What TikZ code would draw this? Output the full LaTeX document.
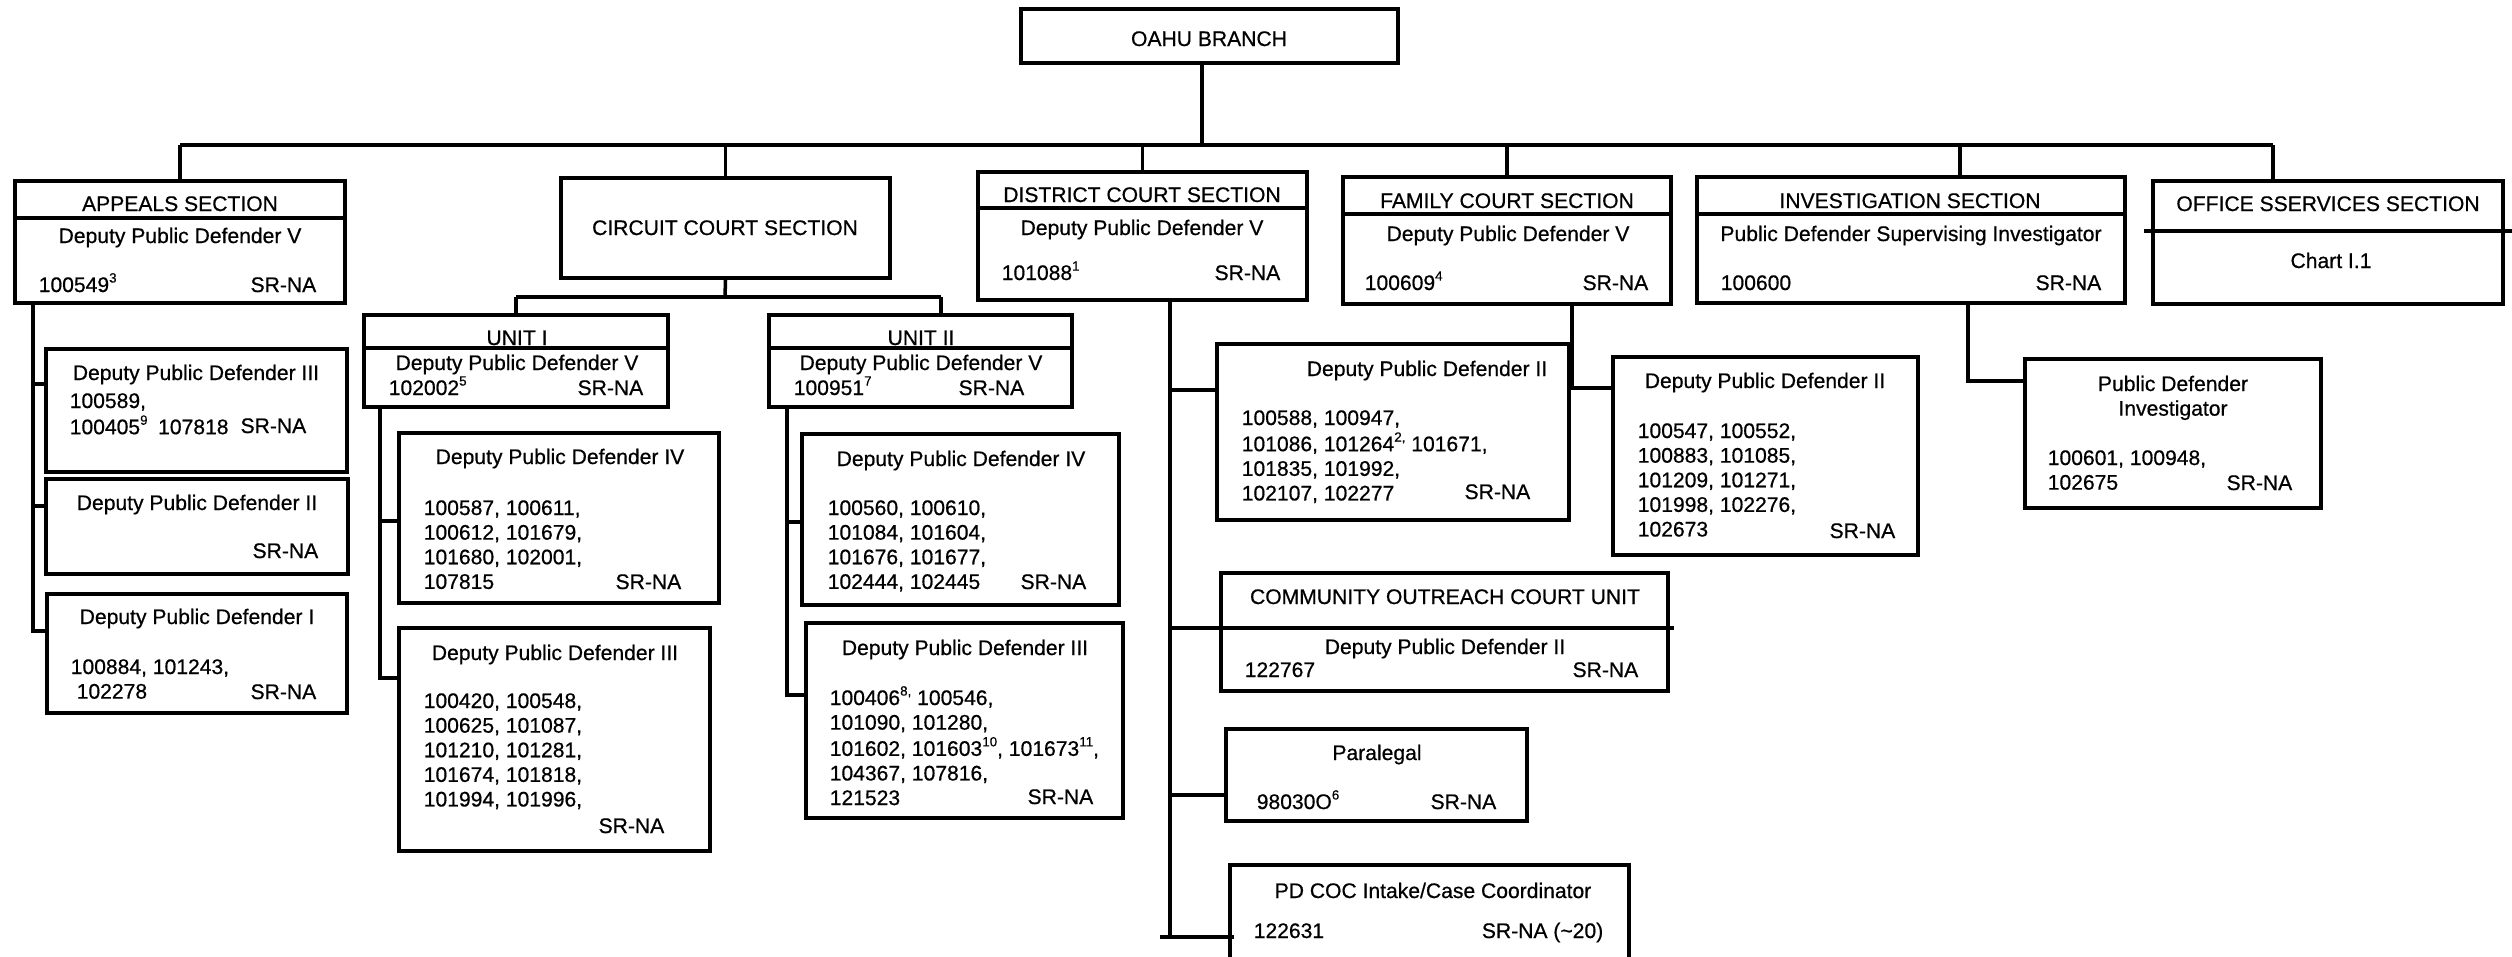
\documentclass[tikz,border=0pt]{standalone}
\usepackage{fontspec}
\setmainfont{Liberation Sans}[FakeBold=0.6,AutoFakeBold=0.6]
\usetikzlibrary{positioning,fit,calc}
\newcommand{\idrows}[2][l]{\begin{tabular}[t]{@{}#1@{}}#2\end{tabular}}
\newcommand{\fnmark}[1]{\raisebox{0.85ex}{\fontsize{3.8}{4}\selectfont #1}}
\tikzset{
    %Define style for boxes
    unit/.style={
        rectangle,
        draw=black, line width=1pt,
        inner sep=0pt,
    },
    txt/.style={
        inner sep=0pt,
        font=\fontsize{6}{7}\selectfont,
    },
    title/.style={txt, anchor=base},
    ids/.style={txt, anchor=base west},
    grade/.style={txt, anchor=base east},
}

\begin{document}
\begin{tikzpicture}[x=0.01cm,y=-0.01cm,line width=1pt]
\useasboundingbox (0,0) rectangle (2512,956);

% top of the chart
\node[unit, fit={(1021,9) (1398,63)}] (oahu) {};
\node[title] (oahu-t) at (1209,46) {OAHU BRANCH};

% sections
\node[unit, fit={(15,181) (345,303)}] (appeals) {};
\draw (appeals.west |- 0,218) -- (appeals.east |- 0,218);
\node[title] (appeals-t) at (180,211) {APPEALS SECTION};
\node[title] (appeals-p) at (180,243) {Deputy Public Defender V};
\node[ids] (appeals-n) at (37,292) {100549\fnmark{3}};
\node[grade] (appeals-g) at (318,292) {SR-NA};

\node[unit, fit={(561,178) (890,278)}] (circuit) {};
\node[title] (circuit-t) at (725,235) {CIRCUIT COURT SECTION};

\node[unit, fit={(978,172) (1307,300)}] (district) {};
\draw (district.west |- 0,208) -- (district.east |- 0,208);
\node[title] (district-t) at (1142,202) {DISTRICT COURT SECTION};
\node[title] (district-p) at (1142,235) {Deputy Public Defender V};
\node[ids] (district-n) at (1000,280) {101088\fnmark{1}};
\node[grade] (district-g) at (1282,280) {SR-NA};

\node[unit, fit={(1343,177) (1671,304)}] (family) {};
\draw (family.west |- 0,214) -- (family.east |- 0,214);
\node[title] (family-t) at (1507,208) {FAMILY COURT SECTION};
\node[title] (family-p) at (1508,241) {Deputy Public Defender V};
\node[ids] (family-n) at (1363,290) {100609\fnmark{4}};
\node[grade] (family-g) at (1650,290) {SR-NA};

\node[unit, fit={(1697,177) (2125,303)}] (invest) {};
\draw (invest.west |- 0,214) -- (invest.east |- 0,214);
\node[title] (invest-t) at (1910,208) {INVESTIGATION SECTION};
\node[title] (invest-p) at (1911,241) {Public Defender Supervising Investigator};
\node[ids] (invest-n) at (1719,290) {100600};
\node[grade] (invest-g) at (2103,290) {SR-NA};

\node[unit, fit={(2153,181) (2503,304)}] (office) {};
\draw ($(office.west |- 0,231)+(-7,0)$) -- ($(office.east |- 0,231)+(7,0)$);
\node[title] (office-t) at (2328,211) {OFFICE SSERVICES SECTION};
\node[title] (office-p) at (2331,268) {Chart I.1};

% branch bus
\coordinate (bus) at (1202,145);
\coordinate (busstart) at (appeals.north |- bus);
\coordinate (busend) at (2273,145);
\coordinate (investdrop) at (1960,145);
\draw (bus |- oahu.south) -- (bus);
\draw (busstart) -- (busend);
\draw (appeals.north) -- (busstart);
\draw (circuit.north) -- (circuit.north |- bus);
\draw (district.north) -- (district.north |- bus);
\draw (family.north) -- (family.north |- bus);
\draw (investdrop) -- (investdrop |- invest.north);
\draw (busend) -- (busend |- office.north);

% appeals section
\node[unit, fit={(46,349) (347,472)}] (ap3) {};
\node[title] (ap3-t) at (196,380) {Deputy Public Defender III};
\node[ids] (ap3-n) at (68,408) {\idrows{100589,\\100405\fnmark{9}\enspace 107818}};
\node[grade] (ap3-g) at (308,433) {SR-NA};

\node[unit, fit={(46,479) (348,574)}] (ap2) {};
\node[title] (ap2-t) at (197,510) {Deputy Public Defender II};
\node[grade] (ap2-g) at (320,558) {SR-NA};

\node[unit, fit={(47,594) (347,713)}] (ap1) {};
\node[title] (ap1-t) at (197,624) {Deputy Public Defender I};
\node[ids] (ap1-n) at (69,674) {\idrows{100884, 101243,\\\hspace{1.7pt}102278}};
\node[grade] (ap1-g) at (318,699) {SR-NA};

\coordinate (aptrunk) at (appeals.south -| 33,0);
\draw (aptrunk) |- (ap3.west |- 0,384);
\draw (aptrunk) |- (ap2.west |- 0,506);
\draw (aptrunk) |- (ap1.west |- 0,631);

% circuit court units
\node[unit, fit={(364,315) (668,407)}] (unit1) {};
\draw (unit1.west |- 0,348) -- (unit1.east |- 0,348);
\node[title] (unit1-t) at (517,345) {UNIT I};
\node[title] (unit1-p) at (517,370) {Deputy Public Defender V};
\node[ids] (unit1-n) at (387,395) {102002\fnmark{5}};
\node[grade] (unit1-g) at (645,395) {SR-NA};

\node[unit, fit={(769,315) (1072,407)}] (unit2) {};
\draw (unit2.west |- 0,348) -- (unit2.east |- 0,348);
\node[title] (unit2-t) at (921,345) {UNIT II};
\node[title] (unit2-p) at (921,370) {Deputy Public Defender V};
\node[ids] (unit2-n) at (792,395) {100951\fnmark{7}};
\node[grade] (unit2-g) at (1026,395) {SR-NA};

\coordinate (cbus) at (725,297);
\coordinate (u2drop) at (941,297);
\draw (circuit.south) -- (cbus);
\draw (unit1.north |- cbus) -- (u2drop);
\draw (unit1.north) -- (unit1.north |- cbus);
\draw (u2drop) -- (u2drop |- unit2.north);

\node[unit, fit={(399,433) (719,603)}] (u1d4) {};
\node[title] (u1d4-t) at (560,464) {Deputy Public Defender IV};
\node[ids] (u1d4-n) at (422,515) {\idrows{100587, 100611,\\100612, 101679,\\101680, 102001,\\107815}};
\node[grade] (u1d4-g) at (683,589) {SR-NA};

\node[unit, fit={(399,628) (710,851)}] (u1d3) {};
\node[title] (u1d3-t) at (555,660) {Deputy Public Defender III};
\node[ids] (u1d3-n) at (422,708) {\idrows{100420, 100548,\\100625, 101087,\\101210, 101281,\\101674, 101818,\\101994, 101996,}};
\node[grade] (u1d3-g) at (666,833) {SR-NA};

\coordinate (u1trunk) at (unit1.south -| 380,0);
\draw (u1trunk) |- (u1d4.west |- 0,521);
\draw (u1trunk) |- (u1d3.west |- 0,678);

\node[unit, fit={(802,434) (1119,605)}] (u2d4) {};
\node[title] (u2d4-t) at (961,466) {Deputy Public Defender IV};
\node[ids] (u2d4-n) at (826,515) {\idrows{100560, 100610,\\101084, 101604,\\101676, 101677,\\102444, 102445}};
\node[grade] (u2d4-g) at (1088,589) {SR-NA};

\node[unit, fit={(806,623) (1123,818)}] (u2d3) {};
\node[title] (u2d3-t) at (965,655) {Deputy Public Defender III};
\node[ids] (u2d3-n) at (828,705) {\idrows{100406\fnmark{8,} 100546,\\101090, 101280,\\101602, 101603\fnmark{10}, 101673\fnmark{11},\\104367, 107816,\\121523}};
\node[grade] (u2d3-g) at (1095,804) {SR-NA};

\coordinate (u2trunk) at (unit2.south -| 787,0);
\draw (u2trunk) |- (u2d4.west |- 0,522);
\draw (u2trunk) |- (u2d3.west |- 0,695);

% district court staff
\node[unit, fit={(1217,344) (1569,520)}] (fd2a) {};
\node[title] (fd2a-t) at (1427,376) {Deputy Public Defender II};
\node[ids] (fd2a-n) at (1240,425) {\idrows{100588, 100947,\\101086, 101264\fnmark{2,} 101671,\\101835, 101992,\\102107, 102277}};
\node[grade] (fd2a-g) at (1532,499) {SR-NA};

\node[unit, fit={(1221,573) (1668,691)}] (cour) {};
\draw (cour.west |- 0,628) -- ($(cour.east |- 0,628)+(4,0)$);
\node[title] (cour-t) at (1445,604) {COMMUNITY OUTREACH COURT UNIT};
\node[title] (cour-p) at (1445,654) {Deputy Public Defender II};
\node[ids] (cour-n) at (1243,677) {122767};
\node[grade] (cour-g) at (1640,677) {SR-NA};

\node[unit, fit={(1226,729) (1527,821)}] (para) {};
\node[title] (para-t) at (1377,760) {Paralegal};
\node[ids] (para-n) at (1255,809) {98030O\fnmark{6}};
\node[grade] (para-g) at (1498,809) {SR-NA};

\node[unit, fit={(1230,865) (1629,985)}] (pdcoc) {};
\node[title] (pdcoc-t) at (1433,898) {PD COC Intake/Case Coordinator};
\node[ids] (pdcoc-n) at (1252,938) {122631};
\node[grade] (pdcoc-g) at (1605,938) {SR-NA (\textasciitilde20)};

\coordinate (dtrunk) at (district.south -| 1170,0);
\draw (dtrunk) |- (fd2a.west |- 0,390);
\draw (dtrunk) |- (cour.west |- 0,628);
\draw (dtrunk) |- (para.west |- 0,795);
\draw (dtrunk) -- (dtrunk |- 0,937);
\draw ($(dtrunk |- 0,937)+(-10,0)$) -- ($(pdcoc.west |- 0,937)+(6,0)$);

% family court staff
\node[unit, fit={(1613,357) (1918,555)}] (fd2b) {};
\node[title] (fd2b-t) at (1765,388) {Deputy Public Defender II};
\node[ids] (fd2b-n) at (1636,438) {\idrows{100547, 100552,\\100883, 101085,\\101209, 101271,\\101998, 102276,\\102673}};
\node[grade] (fd2b-g) at (1897,538) {SR-NA};

\coordinate (ftrunk) at (family.south -| 1572,0);
\draw (ftrunk) |- (fd2b.west |- 0,388);

% investigators
\node[unit, fit={(2025,359) (2321,508)}] (pdinv) {};
\node[title] (pdinv-t) at (2173,391) {\idrows[c]{Public Defender\\Investigator}};
\node[ids] (pdinv-n) at (2046,465) {\idrows{100601, 100948,\\102675}};
\node[grade] (pdinv-g) at (2294,490) {SR-NA};

\coordinate (itrunk) at (invest.south -| 1968,0);
\draw (itrunk) |- (pdinv.west |- 0,381);
\end{tikzpicture}
\end{document}
